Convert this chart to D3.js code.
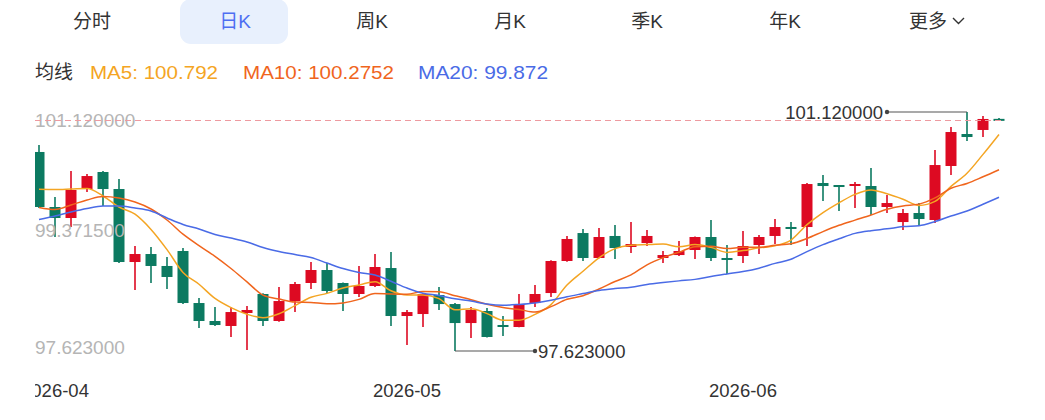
<!DOCTYPE html>
<html>
<head>
<meta charset="utf-8">
<script src="https://cdn.jsdelivr.net/npm/d3@7/dist/d3.min.js"></script>
<style>
  html, body { margin: 0; padding: 0; background: #fff; }
  svg { display: block; font-family: "Liberation Sans", Arial, "Noto Sans CJK SC", sans-serif; }
</style>
</head>
<body>
<svg id="chart" width="1045" height="420"></svg>
<script>
// ---------------- DATA ----------------
const dates = [
  "2026-03-31",
  "2026-04-01","2026-04-02","2026-04-03","2026-04-06","2026-04-07","2026-04-08","2026-04-09","2026-04-10",
  "2026-04-13","2026-04-14","2026-04-15","2026-04-16","2026-04-17","2026-04-20","2026-04-21","2026-04-22",
  "2026-04-23","2026-04-24","2026-04-27","2026-04-28","2026-04-29","2026-04-30",
  "2026-05-01","2026-05-04","2026-05-05","2026-05-06","2026-05-07","2026-05-08","2026-05-11","2026-05-12",
  "2026-05-13","2026-05-14","2026-05-15","2026-05-18","2026-05-19","2026-05-20","2026-05-21","2026-05-22",
  "2026-05-25","2026-05-26","2026-05-27","2026-05-28","2026-05-29",
  "2026-06-01","2026-06-02","2026-06-03","2026-06-04","2026-06-05","2026-06-08","2026-06-09","2026-06-10",
  "2026-06-11","2026-06-12","2026-06-15","2026-06-16","2026-06-17","2026-06-18","2026-06-19","2026-06-22",
  "2026-06-23"
];
const openValues = [
  100.535, 99.730, 99.569, 99.993, 100.242, 99.993, 98.925, 99.042, 98.867, 99.086,
  98.325, 98.062, 97.989, 98.179, 98.457, 98.062, 98.354, 98.618, 98.808, 98.618,
  98.457, 98.574, 98.837, 98.135, 98.164, 98.442, 98.310, 98.032, 98.208, 97.989,
  97.974, 98.325, 98.471, 98.940, 99.349, 98.984, 99.306, 99.145, 99.203, 98.984,
  99.027, 99.101, 99.291, 98.969, 99.013, 99.174, 99.306, 99.423, 99.437, 100.081,
  100.037, 100.023, 100.037, 99.730, 99.510, 99.642, 99.540, 100.330, 100.798, 100.857,
  101.005
];
const closeValues = [
  99.730, 99.569, 99.979, 100.183, 99.993, 98.925, 99.042, 98.867, 98.706, 98.325,
  98.062, 98.003, 98.193, 98.223, 98.062, 98.354, 98.603, 98.808, 98.501, 98.457,
  98.574, 98.852, 98.135, 98.193, 98.457, 98.310, 98.032, 98.223, 97.828, 97.974,
  98.310, 98.457, 98.940, 99.262, 98.984, 99.291, 99.130, 99.188, 99.306, 99.027,
  99.086, 99.291, 98.984, 98.940, 99.159, 99.291, 99.437, 99.408, 100.066, 100.037,
  100.008, 100.052, 99.730, 99.788, 99.642, 99.554, 100.344, 100.827, 100.754, 101.018,
  101.003
];
const highValues = [
  100.637, 99.876, 100.257, 100.213, 100.257, 100.140, 99.159, 99.145, 98.998, 99.130,
  98.398, 98.267, 98.267, 98.281, 98.467, 98.559, 98.632, 98.925, 98.910, 98.625,
  98.867, 99.042, 99.071, 98.223, 98.467, 98.559, 98.325, 98.267, 98.252, 98.135,
  98.457, 98.588, 98.950, 99.306, 99.408, 99.423, 99.466, 99.510, 99.393, 99.086,
  99.232, 99.300, 99.540, 99.174, 99.379, 99.320, 99.554, 99.510, 100.081, 100.198,
  100.052, 100.096, 100.301, 99.905, 99.701, 99.788, 100.564, 100.901, 101.120, 101.061,
  101.032
];
const lowValues = [
  99.715, 99.291, 99.437, 99.949, 99.744, 98.910, 98.515, 98.618, 98.530, 98.310,
  97.959, 97.990, 97.828, 97.637, 97.990, 98.050, 98.193, 98.530, 98.471, 98.208,
  98.413, 98.559, 97.990, 97.711, 97.974, 98.223, 97.623, 97.813, 97.820, 97.842,
  97.970, 98.267, 98.413, 98.930, 98.940, 98.980, 98.969, 99.057, 99.159, 98.910,
  99.013, 98.969, 98.940, 98.749, 98.910, 99.042, 99.188, 99.174, 99.159, 99.818,
  99.671, 99.715, 99.613, 99.642, 99.393, 99.466, 99.496, 100.198, 100.696, 100.754,
  100.998
];
const ma5Values = [
  99.989, 99.986, 99.993, 100.001, 99.891, 99.730, 99.625, 99.402, 99.107, 98.773,
  98.600, 98.392, 98.258, 98.161, 98.109, 98.167, 98.287, 98.410, 98.466, 98.545,
  98.588, 98.638, 98.504, 98.442, 98.442, 98.389, 98.226, 98.243, 98.170, 98.073,
  98.073, 98.158, 98.302, 98.588, 98.790, 98.987, 99.121, 99.171, 99.180, 99.188,
  99.147, 99.180, 99.139, 99.066, 99.092, 99.133, 99.162, 99.247, 99.472, 99.648,
  99.791, 99.914, 99.979, 99.923, 99.844, 99.753, 99.812, 100.031, 100.224, 100.500,
  100.792
];
const ma10Values = [
  99.723, 99.693, 99.759, 99.832, 99.884, 99.862, 99.803, 99.701, 99.540, 99.332,
  99.165, 99.008, 98.830, 98.634, 98.441, 98.384, 98.340, 98.334, 98.313, 98.327,
  98.378, 98.463, 98.457, 98.454, 98.493, 98.489, 98.432, 98.373, 98.306, 98.258,
  98.231, 98.192, 98.272, 98.379, 98.432, 98.530, 98.640, 98.736, 98.884, 98.989,
  99.067, 99.150, 99.155, 99.123, 99.140, 99.140, 99.171, 99.193, 99.269, 99.370,
  99.462, 99.538, 99.613, 99.698, 99.746, 99.772, 99.863, 100.005, 100.074, 100.172,
  100.2752
];
const ma20Values = [
  99.547, 99.598, 99.657, 99.708, 99.744, 99.744, 99.715, 99.671, 99.569, 99.474,
  99.408, 99.327, 99.276, 99.218, 99.137, 99.079, 99.035, 98.991, 98.910, 98.829,
  98.771, 98.736, 98.643, 98.544, 98.467, 98.436, 98.386, 98.354, 98.310, 98.292,
  98.305, 98.327, 98.365, 98.417, 98.463, 98.509, 98.536, 98.555, 98.595, 98.624,
  98.649, 98.671, 98.714, 98.751, 98.786, 98.835, 98.905, 98.965, 99.077, 99.180,
  99.265, 99.344, 99.384, 99.410, 99.443, 99.456, 99.517, 99.599, 99.671, 99.771,
  99.872
];
const yTickValues = [101.12, 99.3715, 97.623];
const yTickLabels = ["101.120000", "99.371500", "97.623000"];
const xTickDates = ["2026-04-01", "2026-05-01", "2026-06-01"];
const xTickLabels = ["2026-04", "2026-05", "2026-06"];
const tabLabels = ["分时", "日K", "周K", "月K", "季K", "年K", "更多"];
const activeTab = "日K";
const legendTitle = "均线";
const legendLabels = ["MA5: 100.792", "MA10: 100.2752", "MA20: 99.872"];
const maxLabel = "101.120000";
const minLabel = "97.623000";

// ---------------- STYLE ----------------
const C_UP = "#dd0a22", C_DOWN = "#0c7a61";
const C_MA = ["#f4a523", "#f0651d", "#4a6be6"];
const svg = d3.select("#chart");

// ---------------- TABS ----------------
const tabCenters = [92, 235, 372, 510, 647, 785, 928];
svg.append("rect").attr("x", 180).attr("y", -1).attr("width", 108).attr("height", 45)
  .attr("rx", 11).attr("fill", "#e8f0fd");
svg.selectAll("text.tab").data(tabLabels).join("text")
  .attr("class", "tab")
  .attr("x", (d, i) => tabCenters[i]).attr("y", 21)
  .attr("text-anchor", "middle").attr("dominant-baseline", "central")
  .attr("font-size", 19)
  .attr("fill", d => d === activeTab ? "#4e6ef2" : "#333")
  .text(d => d);
svg.append("path").attr("d", "M953,18 L958.5,23.5 L964,18")
  .attr("fill", "none").attr("stroke", "#333").attr("stroke-width", 1.4);

// ---------------- LEGEND ----------------
const lg = svg.append("g").attr("font-size", 19);
lg.append("text").attr("x", 35).attr("y", 72).attr("dominant-baseline", "central")
  .attr("fill", "#333").text(legendTitle);
const legendX = [90, 243, 418];
lg.selectAll("text.ma").data(legendLabels).join("text").attr("class", "ma")
  .attr("x", (d, i) => legendX[i]).attr("y", 72).attr("dominant-baseline", "central")
  .attr("textLength", (d, i) => [128, 151, 130][i]).attr("lengthAdjust", "spacingAndGlyphs")
  .attr("fill", (d, i) => C_MA[i]).text(d => d);

// ---------------- SCALES ----------------
const x = d3.scaleBand().domain(dates).range([31, 31 + 16 * dates.length]).padding(0);
const cx = d => x(d) + x.bandwidth() / 2;
const y = d3.scaleLinear().domain([97.623, 101.12]).range([351, 112]);
const bodyW = 11;

svg.append("defs").append("clipPath").attr("id", "clip")
  .append("rect").attr("x", 35).attr("y", 90).attr("width", 1010).attr("height", 330);

const plot = svg.append("g").attr("clip-path", "url(#clip)");

// candles
const candles = dates.map((d, i) => ({
  d, o: openValues[i], c: closeValues[i], h: highValues[i], l: lowValues[i]
}));
const cg = plot.append("g").selectAll("g").data(candles).join("g");
cg.append("line")
  .attr("x1", d => cx(d.d)).attr("x2", d => cx(d.d))
  .attr("y1", d => y(d.h)).attr("y2", d => y(d.l))
  .attr("stroke", d => d.c >= d.o ? C_UP : C_DOWN).attr("stroke-width", 1.6);
cg.append("rect")
  .attr("x", d => cx(d.d) - bodyW / 2).attr("width", bodyW)
  .attr("y", d => Math.min(y(d.o), y(d.c)) - (Math.abs(y(d.o) - y(d.c)) < 2 ? 1 : 0))
  .attr("height", d => Math.max(2, Math.abs(y(d.o) - y(d.c))))
  .attr("fill", d => d.c >= d.o ? C_UP : C_DOWN);

// MA lines
[ma5Values, ma10Values, ma20Values].forEach((arr, k) => {
  const line = d3.line().x((v, i) => cx(dates[i])).y(v => y(v)).curve(d3.curveMonotoneX);
  plot.append("path").datum(arr).attr("d", line)
    .attr("fill", "none").attr("stroke", C_MA[k]).attr("stroke-width", 1.5);
});

// y labels (drawn over the plot)
const yOff = [15, 5, 3];
svg.append("g").selectAll("text").data(yTickValues).join("text")
  .attr("x", 35).attr("y", (d, i) => y(d) + yOff[i])
  .attr("font-size", 19).attr("fill", "#b5b5b5")
  .text((d, i) => yTickLabels[i]);

// last price dashed line (pixel-snapped)
const lastClose = closeValues[closeValues.length - 1];
const yLast = Math.round(y(lastClose)) + 0.5;
svg.append("line").attr("x1", 35).attr("x2", 1005)
  .attr("y1", yLast).attr("y2", yLast)
  .attr("stroke", "#ee9aa0").attr("stroke-width", 1).attr("stroke-dasharray", "6,4");

// max / min annotations
const iMax = d3.maxIndex(highValues), iMin = d3.minIndex(lowValues);
const ax = svg.append("g").attr("font-size", 18.5).attr("fill", "#333");
{
  const x0 = cx(dates[iMax]), y0 = y(highValues[iMax]), x1 = x0 - 80;
  ax.append("line").attr("x1", x0).attr("x2", x1).attr("y1", y0).attr("y2", y0)
    .attr("stroke", "#555").attr("stroke-width", 1.2);
  ax.append("circle").attr("cx", x1).attr("cy", y0).attr("r", 2.2).attr("fill", "#444");
  ax.append("text").attr("x", x1 - 4).attr("y", y0).attr("text-anchor", "end")
    .attr("dominant-baseline", "central").text(maxLabel);
}
{
  const x0 = cx(dates[iMin]), y0 = y(lowValues[iMin]), x1 = x0 + 80;
  ax.append("line").attr("x1", x0).attr("x2", x1).attr("y1", y0).attr("y2", y0)
    .attr("stroke", "#555").attr("stroke-width", 1.2);
  ax.append("circle").attr("cx", x1).attr("cy", y0).attr("r", 2.2).attr("fill", "#444");
  ax.append("text").attr("x", x1 + 3).attr("y", y0).attr("text-anchor", "start")
    .attr("dominant-baseline", "central").text(minLabel);
}

// x labels
const xg = svg.append("g").attr("clip-path", "url(#clip)");
xg.selectAll("text").data(xTickDates).join("text")
  .attr("x", d => cx(d)).attr("y", 390).attr("text-anchor", "middle")
  .attr("dominant-baseline", "central")
  .attr("font-size", 18.5).attr("fill", "#333")
  .text((d, i) => xTickLabels[i]);
</script>
</body>
</html>
